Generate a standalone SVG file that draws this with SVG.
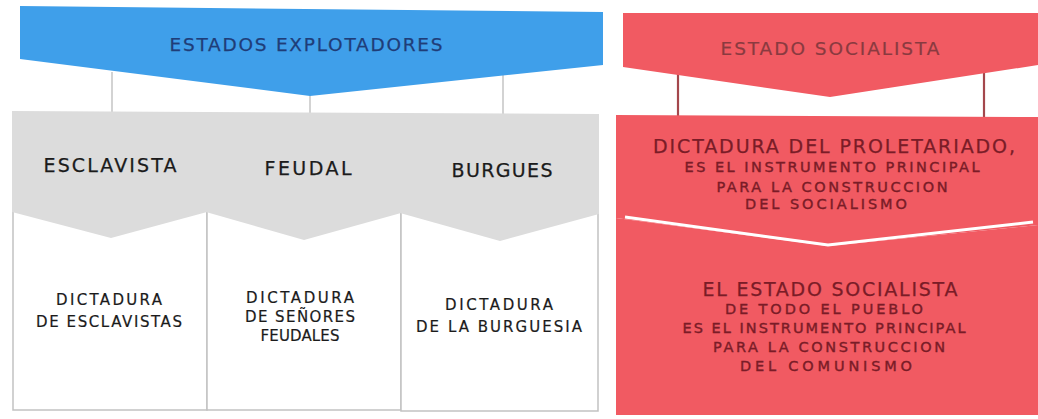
<svg xmlns="http://www.w3.org/2000/svg" width="1038" height="419" viewBox="0 0 1038 419">
<style>
text{font-family:"DejaVu Sans","Liberation Sans",sans-serif;text-anchor:middle;}
.t-blue{fill:#1f3d78;font-size:18.5px;stroke:#1f3d78;stroke-width:0.25;}
.t-gray{fill:#1b1b1b;font-size:19px;stroke:#1b1b1b;stroke-width:0.25;}
.t-cell{fill:#1b1b1b;font-size:15px;stroke:#1b1b1b;stroke-width:0.2;}
.t-red-big{fill:#7a1c27;font-size:19px;stroke:#7a1c27;stroke-width:0.25;}
.t-red{fill:#7a1c27;font-size:14.5px;stroke:#7a1c27;stroke-width:0.4;}
.t-red-title{fill:#8a3a40;font-size:18.5px;stroke:#8a3a40;stroke-width:0.2;}
.blue{fill:#3f9fea;}
.red{fill:#f15a62;}
.gray{fill:#dcdcdc;}
.cell{fill:#ffffff;}
.border{fill:none;stroke:#c2c2c2;stroke-width:1.5;}
.c-gray{stroke:#c8c8c8;stroke-width:1.6;fill:none;}
.c-red{stroke:#a4474c;stroke-width:2.2;fill:none;}
</style>
<rect width="1038" height="419" fill="#ffffff"/>

<g id="connectors">
<line class="c-gray" x1="112" y1="72" x2="112" y2="112"/>
<line class="c-gray" x1="310" y1="94" x2="310" y2="113"/>
<line class="c-gray" x1="503" y1="74" x2="503" y2="114"/>
<line class="c-red" x1="678" y1="70" x2="678" y2="117"/>
<line class="c-red" x1="984" y1="67" x2="984" y2="118"/>
</g>

<g id="estados-explotadores">
<polygon class="blue" points="20,6 603,12 603,65 310,96 20,59"/>
<text class="t-blue" x="306" y="51" textLength="273" lengthAdjust="spacing">ESTADOS EXPLOTADORES</text>
</g>

<g id="estado-socialista">
<polygon class="red" points="623,13 1038,13 1038,65 830,97 623,67"/>
<text class="t-red-title" x="830" y="55" textLength="219" lengthAdjust="spacing">ESTADO SOCIALISTA</text>
</g>

<g id="dictadura-esclavistas">
<rect class="cell" x="13" y="212" width="194" height="198"/>
<path class="border" d="M13,212 V410 H207 V212"/>
<text class="t-cell" x="109" y="305" textLength="106" lengthAdjust="spacing">DICTADURA</text>
<text class="t-cell" x="109" y="327" textLength="146" lengthAdjust="spacing">DE ESCLAVISTAS</text>
</g>
<g id="dictadura-senores-feudales">
<rect class="cell" x="207" y="212" width="194" height="198"/>
<path class="border" d="M207,212 V410 H401 V212"/>
<text class="t-cell" x="300" y="303" textLength="108" lengthAdjust="spacing">DICTADURA</text>
<text class="t-cell" x="300" y="322" textLength="110" lengthAdjust="spacing">DE SEÑORES</text>
<text class="t-cell" x="300" y="341" textLength="79" lengthAdjust="spacing">FEUDALES</text>
</g>
<g id="dictadura-burguesia">
<rect class="cell" x="401" y="213" width="197" height="198"/>
<path class="border" d="M401,213 V411 H598 V213"/>
<text class="t-cell" x="499" y="310" textLength="108" lengthAdjust="spacing">DICTADURA</text>
<text class="t-cell" x="499" y="332" textLength="166" lengthAdjust="spacing">DE LA BURGUESIA</text>
</g>

<g id="esclavista">
<polygon class="gray" points="12,111 207,112 207,212 111,238 12,212"/>
<text class="t-gray" x="110" y="172" textLength="133" lengthAdjust="spacing">ESCLAVISTA</text>
</g>
<g id="feudal">
<polygon class="gray" points="206,112 401,113 401,213 304,240 206,212"/>
<text class="t-gray" x="308" y="175" textLength="87" lengthAdjust="spacing">FEUDAL</text>
</g>
<g id="burgues">
<polygon class="gray" points="400,113 599,114 599,214 500,241 400,213"/>
<text class="t-gray" x="502" y="177" textLength="101" lengthAdjust="spacing">BURGUES</text>
</g>

<g id="dictadura-proletariado">
<polygon class="red" points="616,115 1038,117 1038,225 828,246 616,218"/>
<text class="t-red-big" x="834" y="153" textLength="362" lengthAdjust="spacing">DICTADURA DEL PROLETARIADO,</text>
<text class="t-red" x="832" y="172" textLength="295" lengthAdjust="spacing">ES EL INSTRUMENTO PRINCIPAL</text>
<text class="t-red" x="832" y="192" textLength="231" lengthAdjust="spacing">PARA LA CONSTRUCCION</text>
<text class="t-red" x="826" y="209" textLength="162" lengthAdjust="spacing">DEL SOCIALISMO</text>
</g>

<g id="estado-todo-el-pueblo">
<polygon class="red" points="616,218 828,246 1038,225 1038,415 616,415"/>
<text class="t-red-big" x="830" y="296" textLength="255" lengthAdjust="spacing">EL ESTADO SOCIALISTA</text>
<text class="t-red" x="824" y="314" textLength="198" lengthAdjust="spacing">DE TODO EL PUEBLO</text>
<text class="t-red" x="824" y="333" textLength="283" lengthAdjust="spacing">ES EL INSTRUMENTO PRINCIPAL</text>
<text class="t-red" x="829" y="352" textLength="232" lengthAdjust="spacing">PARA LA CONSTRUCCION</text>
<text class="t-red" x="826" y="371" textLength="172" lengthAdjust="spacing">DEL COMUNISMO</text>
</g>

<polyline points="625,217 828,245 1033,222" fill="none" stroke="#ffffff" stroke-width="3"/>
</svg>
